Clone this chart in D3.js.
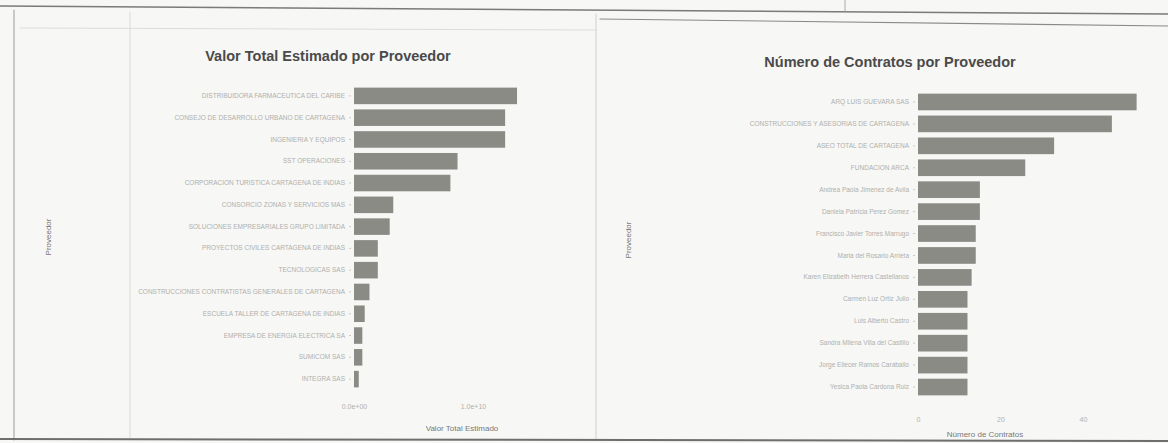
<!DOCTYPE html>
<html>
<head>
<meta charset="utf-8">
<script src="https://cdn.jsdelivr.net/npm/d3@7"></script>
<style>
  html, body { margin: 0; padding: 0; background: #f6f6f4; }
  svg { display: block; font-family: "Liberation Sans", Arial, sans-serif; }
</style>
</head>
<body>
<svg id="chart" width="1168" height="443"></svg>
<script>
// ---- Data ----
const valorProveedores = [
  "DISTRIBUIDORA FARMACEUTICA DEL CARIBE",
  "CONSEJO DE DESARROLLO URBANO DE CARTAGENA",
  "INGENIERIA Y EQUIPOS",
  "SST OPERACIONES",
  "CORPORACION TURISTICA CARTAGENA DE INDIAS",
  "CONSORCIO ZONAS Y SERVICIOS MAS",
  "SOLUCIONES EMPRESARIALES GRUPO LIMITADA",
  "PROYECTOS CIVILES CARTAGENA DE INDIAS",
  "TECNOLOGICAS SAS",
  "CONSTRUCCIONES CONTRATISTAS GENERALES DE CARTAGENA",
  "ESCUELA TALLER DE CARTAGENA DE INDIAS",
  "EMPRESA DE ENERGIA ELECTRICA SA",
  "SUMICOM SAS",
  "INTEGRA SAS"
];
const valorTotal = [1.37e10, 1.27e10, 1.27e10, 8.7e9, 8.1e9, 3.3e9, 3.0e9, 2.0e9, 2.0e9, 1.3e9, 9.0e8, 7.0e8, 7.0e8, 4.0e8];
const valorTicks = [0, 1e10];
const valorTickLabels = ["0.0e+00", "1.0e+10"];

const contratosProveedores = [
  "ARQ LUIS GUEVARA SAS",
  "CONSTRUCCIONES Y ASESORIAS DE CARTAGENA",
  "ASEO TOTAL DE CARTAGENA",
  "FUNDACION ARCA",
  "Andrea Paola Jimenez de Avila",
  "Daniela Patricia Perez Gomez",
  "Francisco Javier Torres Marrugo",
  "Maria del Rosario Arrieta",
  "Karen Elizabeth Herrera Castellanos",
  "Carmen Luz Ortiz Julio",
  "Luis Alberto Castro",
  "Sandra Milena Villa del Castillo",
  "Jorge Eliecer Ramos Caraballo",
  "Yesica Paola Cardona Ruiz"
];
const numeroContratos = [53, 47, 33, 26, 15, 15, 14, 14, 13, 12, 12, 12, 12, 12];
const contratosTicks = [0, 20, 40];

// ---- Drawing ----
const svg = d3.select("#chart");
const barColor = "#8b8b86";
const labelColor = "#b0b0ac";
const titleColor = "#4a4a4a";

// decorative frame (photo of a printed page)
const frame = svg.append("g").attr("stroke-linecap", "round");
frame.append("rect").attr("x", 0).attr("y", 0).attr("width", 1168).attr("height", 443).attr("fill", "#f7f7f5");
frame.append("line").attr("x1", 0).attr("y1", 6).attr("x2", 1168).attr("y2", 14).attr("stroke", "#7a7a7a").attr("stroke-width", 1.6);
frame.append("line").attr("x1", 600).attr("y1", 19).attr("x2", 1168).attr("y2", 26).attr("stroke", "#8a8a8a").attr("stroke-width", 1.2);
frame.append("line").attr("x1", 845).attr("y1", 0).attr("x2", 845).attr("y2", 12).attr("stroke", "#999").attr("stroke-width", 0.8);
frame.append("line").attr("x1", 14).attr("y1", 10).attr("x2", 14).attr("y2", 440).attr("stroke", "#aaa").attr("stroke-width", 1.2);
frame.append("line").attr("x1", 130).attr("y1", 12).attr("x2", 130).attr("y2", 438).attr("stroke", "#dadada").attr("stroke-width", 1);
frame.append("line").attr("x1", 596).attr("y1", 14).attr("x2", 596).attr("y2", 440).attr("stroke", "#d0d0d0").attr("stroke-width", 1);
frame.append("line").attr("x1", 20).attr("y1", 28).attr("x2", 596).attr("y2", 30).attr("stroke", "#dcdcdc").attr("stroke-width", 1);
frame.append("line").attr("x1", 0).attr("y1", 439).attr("x2", 1168).attr("y2", 441).attr("stroke", "#6e6e6e").attr("stroke-width", 2);

function drawPanel(cfg) {
  const g = svg.append("g");
  const y = d3.scaleBand()
    .domain(cfg.categories)
    .range([cfg.top, cfg.bottom])
    .paddingInner(0.24)
    .paddingOuter(0.12);
  const x = d3.scaleLinear().domain(cfg.domain).range([cfg.left, cfg.right]);

  g.selectAll("rect.bar")
    .data(cfg.values)
    .join("rect")
    .attr("class", "bar")
    .attr("x", x(0))
    .attr("y", (d, i) => y(cfg.categories[i]))
    .attr("width", d => x(d) - x(0))
    .attr("height", y.bandwidth())
    .attr("fill", barColor);

  // y axis
  const yAxis = d3.axisLeft(y).tickSize(2).tickPadding(4);
  const ya = g.append("g").attr("transform", `translate(${x(0) - 3},0)`).call(yAxis);
  ya.select(".domain").remove();
  ya.selectAll("line").attr("stroke", "#c8c8c8");
  ya.selectAll("text").attr("fill", labelColor).attr("font-size", 6.5);

  // x axis
  const xAxis = d3.axisBottom(x).tickValues(cfg.ticks).tickSize(0).tickPadding(4);
  if (cfg.tickLabels) xAxis.tickFormat((d, i) => cfg.tickLabels[i]);
  const xa = g.append("g").attr("transform", `translate(0,${cfg.axisY})`).call(xAxis);
  xa.select(".domain").remove();
  xa.selectAll("text").attr("fill", labelColor).attr("font-size", 7);

  // titles
  g.append("text").attr("x", cfg.titleX).attr("y", cfg.titleY)
    .attr("text-anchor", "middle").attr("font-size", 14.5).attr("fill", titleColor)
    .attr("font-weight", "bold")
    .text(cfg.title);
  g.append("text").attr("x", cfg.xLabelX).attr("y", cfg.xLabelY)
    .attr("text-anchor", "middle").attr("font-size", 8).attr("fill", "#777")
    .text(cfg.xLabel);
  g.append("text")
    .attr("transform", `translate(${cfg.yLabelX},${cfg.yLabelY}) rotate(-90)`)
    .attr("text-anchor", "middle").attr("font-size", 8).attr("fill", "#777")
    .text("Proveedor");
}

drawPanel({
  categories: valorProveedores,
  values: valorTotal,
  domain: [0, 1e10],
  left: 354, right: 473,
  top: 85, bottom: 390,
  ticks: valorTicks,
  tickLabels: valorTickLabels,
  axisY: 400,
  title: "Valor Total Estimado por Proveedor",
  titleX: 328, titleY: 61,
  xLabel: "Valor Total Estimado",
  xLabelX: 462, xLabelY: 431,
  yLabelX: 51, yLabelY: 237
});

drawPanel({
  categories: contratosProveedores,
  values: numeroContratos,
  domain: [0, 40],
  left: 918, right: 1083,
  top: 91, bottom: 398,
  ticks: contratosTicks,
  tickLabels: null,
  axisY: 413,
  title: "Número de Contratos por Proveedor",
  titleX: 890, titleY: 67,
  xLabel: "Número de Contratos",
  xLabelX: 985, xLabelY: 437,
  yLabelX: 631, yLabelY: 240
});
</script>
</body>
</html>
